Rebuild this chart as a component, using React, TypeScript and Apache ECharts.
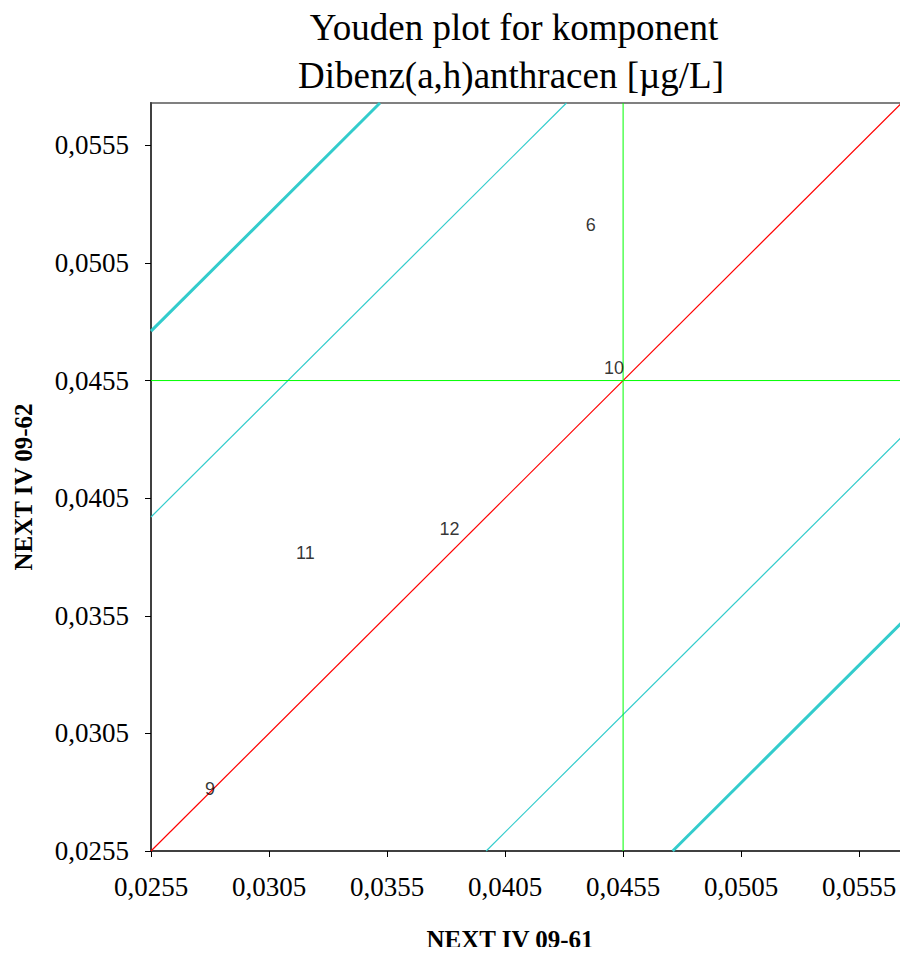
import React, { useEffect, useRef } from "react";
import * as echarts from "echarts";

const titleLines = ["Youden plot for komponent", "Dibenz(a,h)anthracen [µg/L]"];
const xAxisName = "NEXT IV 09-61";
const yAxisName = "NEXT IV 09-62";
const axisMin = 0.0255;
const xAxisMax = 0.0574;
const yAxisMax = 0.0573;
const tickValues = [0.0255, 0.0305, 0.0355, 0.0405, 0.0455, 0.0505, 0.0555];
const labNames = ["6", "10", "12", "11", "9"];
const labX = [0.04413, 0.04511, 0.03815, 0.03204, 0.028];
const labY = [0.05211, 0.04604, 0.03917, 0.03815, 0.02813];
const centerX = 0.0455;
const centerY = 0.0455;
const innerLimitOffset = 0.0142;
const outerLimitOffset = 0.0221;

const fmt = (v: number) => v.toFixed(4).replace(".", ",");

// line y = x + offset, cut to the axis box
function diag(offset: number) {
  const x0 = Math.max(axisMin, axisMin - offset);
  const x1 = Math.min(xAxisMax, yAxisMax - offset);
  return [
    [x0, x0 + offset],
    [x1, x1 + offset],
  ];
}

export default function App() {
  const ref = useRef<HTMLDivElement>(null);
  useEffect(() => {
    if (!ref.current) return;
    const chart = echarts.init(ref.current, null, { renderer: "svg" });
    const lineSeries = (data: number[][], color: string, width: number) => ({
      type: "line",
      data,
      showSymbol: false,
      symbol: "none",
      clip: false,
      silent: true,
      color,
      itemStyle: { color },
      lineStyle: { color, width },
      emphasis: { disabled: true },
      z: 2,
    });
    const textStyle = (text: string, font: string) => ({
      text,
      font,
      fill: "#000",
      align: "center",
      verticalAlign: "middle",
    });
    chart.setOption({
      animation: false,
      backgroundColor: "#ffffff",
      grid: {
        left: 151,
        top: 103,
        right: 4,
        bottom: 104,
        show: true,
        borderColor: "#808080",
        borderWidth: 2,
      },
      graphic: [
        { type: "text", x: 514, y: 27, style: textStyle(titleLines[0], "37px 'Liberation Serif'") },
        { type: "text", x: 511, y: 75, style: textStyle(titleLines[1], "37px 'Liberation Serif'") },
        { type: "text", x: 510, y: 939, style: textStyle(xAxisName, "bold 25px 'Liberation Serif'") },
        {
          type: "text",
          x: 23,
          y: 487,
          rotation: Math.PI / 2,
          style: textStyle(yAxisName, "bold 25px 'Liberation Serif'"),
        },
      ],
      xAxis: {
        type: "value",
        min: axisMin,
        max: xAxisMax,
        splitLine: { show: false },
        axisLine: { lineStyle: { color: "#404040", width: 2 } },
        axisTick: { customValues: tickValues, length: 6, lineStyle: { color: "#000", width: 1 } },
        axisLabel: {
          customValues: tickValues,
          formatter: (v: number) => fmt(v),
          fontFamily: "Liberation Serif",
          fontSize: 27,
          color: "#000",
          margin: 22,
        },
      },
      yAxis: {
        type: "value",
        min: axisMin,
        max: yAxisMax,
        splitLine: { show: false },
        axisLine: { lineStyle: { color: "#404040", width: 2 } },
        axisTick: { customValues: tickValues, length: 6, lineStyle: { color: "#000", width: 1 } },
        axisLabel: {
          customValues: tickValues,
          formatter: (v: number) => fmt(v),
          fontFamily: "Liberation Serif",
          fontSize: 27,
          color: "#000",
          margin: 22,
        },
      },
      series: [
        lineSeries(diag(0), "#ff0000", 1.2),
        lineSeries(diag(innerLimitOffset), "#33cccc", 1.2),
        lineSeries(diag(-innerLimitOffset), "#33cccc", 1.2),
        lineSeries(diag(outerLimitOffset), "#33cccc", 3),
        lineSeries(diag(-outerLimitOffset), "#33cccc", 3),
        lineSeries([[centerX, axisMin], [centerX, yAxisMax]], "#00ff00", 1),
        lineSeries([[axisMin, centerY], [xAxisMax, centerY]], "#00ff00", 1),
        {
          type: "scatter",
          symbolSize: 1,
          itemStyle: { color: "rgba(0,0,0,0)" },
          silent: true,
          z: 5,
          data: labNames.map((n, i) => ({ name: n, value: [labX[i], labY[i]] })),
          label: {
            show: true,
            position: "inside",
            formatter: (p: any) => p.name,
            fontFamily: "Liberation Sans",
            fontSize: 18,
            color: "#000",
          },
        },
      ],
    });
    return () => chart.dispose();
  }, []);
  return <div ref={ref} style={{ width: 908, height: 955, margin: -8 }} />;
}
